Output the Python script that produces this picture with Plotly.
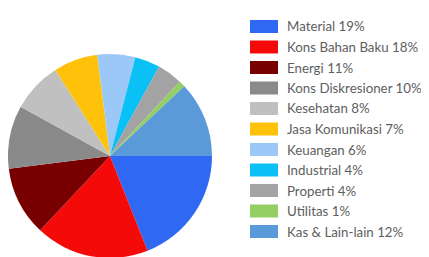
import plotly.graph_objects as go

labels = ["Material", "Kons Bahan Baku", "Energi", "Kons Diskresioner", "Kesehatan",
          "Jasa Komunikasi", "Keuangan", "Industrial", "Properti", "Utilitas", "Kas & Lain-lain"]
values = [19, 18, 11, 10, 8, 7, 6, 4, 4, 1, 12]
colors = ["#2f68f2", "#f50a0a", "#780000", "#8a8a8a", "#c0c0c0", "#ffc20a",
          "#9cc8f7", "#0bc0f5", "#a3a3a3", "#93cf63", "#5a9ad8"]

W, H = 429, 257

fig = go.Figure(go.Pie(
    labels=labels, values=values, sort=False, direction="clockwise", rotation=90,
    marker=dict(colors=colors, line=dict(width=0)),
    textinfo="none", hoverinfo="label+percent",
    domain=dict(x=[0 / W, 204 / W], y=[7 / H, 211 / H]),
    showlegend=False,
))

shapes = []
annotations = []
y0, step = 18.5, 20.5
for i, (lab, val, col) in enumerate(zip(labels, values, colors)):
    cy = y0 + i * step
    shapes.append(dict(type="rect", xref="paper", yref="paper",
                       x0=242 / W, x1=270 / W, y0=1 - (cy + 6.5) / H, y1=1 - (cy - 6.5) / H,
                       fillcolor=col, line=dict(width=0)))
    annotations.append(dict(xref="paper", yref="paper", x=277 / W, y=1 - cy / H,
                            xanchor="left", yanchor="middle", showarrow=False,
                            text=f"{lab} {val}%",
                            font=dict(family="Lato, Noto Sans, sans-serif", size=13.3, color="#5e5e5e")))

fig.update_layout(
    width=W, height=H, margin=dict(l=0, r=0, t=0, b=0),
    paper_bgcolor="white", plot_bgcolor="white",
    shapes=shapes, annotations=annotations,
)
fig.write_html("out.html")
